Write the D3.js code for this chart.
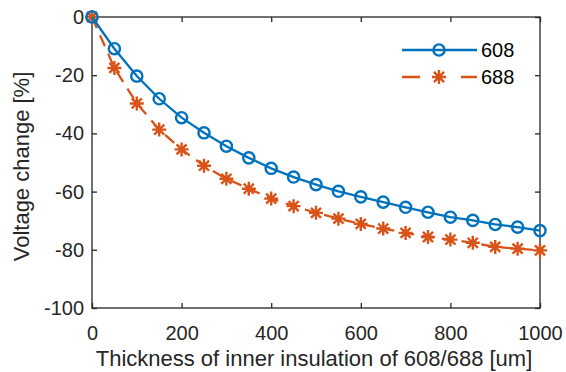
<!DOCTYPE html>
<html>
<head>
<meta charset="utf-8">
<script src="https://cdn.jsdelivr.net/npm/d3@7"></script>
<style>
  body { margin: 0; background: #fff; }
  svg { display: block; font-family: "Liberation Sans", Arial, sans-serif; }
</style>
</head>
<body>
<svg id="chart" width="566" height="372"></svg>
<script>
// thickness in um
const thickness = [0, 50, 100, 150, 200, 250, 300, 350, 400, 450, 500,
  550, 600, 650, 700, 750, 800, 850, 900, 950, 1000];
// voltage change [%]
const v608 = [0, -10.9, -20.3, -28.1, -34.6, -39.8, -44.4, -48.4, -52.0, -55.0, -57.6,
  -59.9, -61.8, -63.6, -65.4, -67.1, -68.8, -69.9, -71.3, -72.2, -73.4];
const v688 = [0, -17.5, -29.7, -38.7, -45.5, -51.1, -55.6, -59.0, -62.4, -65.0, -67.3,
  -69.3, -71.1, -72.7, -74.2, -75.6, -76.5, -77.6, -79.0, -79.6, -80.2];
const xTicks = [0, 200, 400, 600, 800, 1000];
const yTicks = [0, -20, -40, -60, -80, -100];
const seriesNames = ["608", "688"];

const blue = "#0072BD", orange = "#D95319";
const m = { left: 92, right: 26, top: 17, bottom: 64 };
const W = 566, H = 372;

const svg = d3.select("#chart");
const x = d3.scaleLinear().domain([0, 1000]).range([m.left, W - m.right]);
const y = d3.scaleLinear().domain([-100, 0]).range([H - m.bottom, m.top]);

const axisCol = "#262626";
const tickLen = 5;
const fmt = d => String(d); // plain hyphen minus, no thousands sep

function styleAxis(g) {
  g.select(".domain").remove();
  g.selectAll("line").attr("stroke", axisCol).attr("stroke-width", 1.3);
  g.selectAll("text").attr("fill", axisCol).attr("font-size", 20).attr("font-family", null);
}

// ticks point inward, box on all four sides
svg.append("g")
  .attr("transform", `translate(0,${y(-100)})`)
  .call(d3.axisBottom(x).tickValues(xTicks).tickSize(-tickLen).tickPadding(18).tickFormat(fmt))
  .call(styleAxis);
svg.append("g")
  .attr("transform", `translate(0,${y(0)})`)
  .call(d3.axisTop(x).tickValues(xTicks).tickSize(-tickLen).tickFormat(""))
  .call(styleAxis);
svg.append("g")
  .attr("transform", `translate(${x(0)},0)`)
  .call(d3.axisLeft(y).tickValues(yTicks).tickSize(-tickLen).tickPadding(8).tickFormat(fmt))
  .call(styleAxis);
svg.append("g")
  .attr("transform", `translate(${x(1000)},0)`)
  .call(d3.axisRight(y).tickValues(yTicks).tickSize(-tickLen).tickFormat(""))
  .call(styleAxis);

svg.append("rect")
  .attr("x", x(0)).attr("y", y(0))
  .attr("width", x(1000) - x(0)).attr("height", y(-100) - y(0))
  .attr("fill", "none").attr("stroke", axisCol).attr("stroke-width", 1.3);

const line = d3.line().x(d => x(d[0])).y(d => y(d[1]));
const d608 = thickness.map((t, i) => [t, v608[i]]);
const d688 = thickness.map((t, i) => [t, v688[i]]);

// 688: dashed line with asterisk markers
svg.append("path").datum(d688).attr("d", line)
  .attr("fill", "none").attr("stroke", orange).attr("stroke-width", 2.3)
  .attr("stroke-dasharray", "12 8");

function star(g, cx, cy, col) {
  const r = 7, d = r * 0.72;
  const p = `M${cx - r},${cy}H${cx + r}M${cx},${cy - r}V${cy + r}` +
    `M${cx - d},${cy - d}L${cx + d},${cy + d}M${cx - d},${cy + d}L${cx + d},${cy - d}`;
  g.append("path").attr("d", p).attr("stroke", col).attr("stroke-width", 2.4).attr("fill", "none");
}
const g688 = svg.append("g");
d688.forEach(d => star(g688, x(d[0]), y(d[1]), orange));

// 608: solid line with open circles
svg.append("path").datum(d608).attr("d", line)
  .attr("fill", "none").attr("stroke", blue).attr("stroke-width", 2.3);
svg.append("g").selectAll("circle").data(d608).join("circle")
  .attr("cx", d => x(d[0])).attr("cy", d => y(d[1])).attr("r", 5.6)
  .attr("fill", "none").attr("stroke", blue).attr("stroke-width", 2.4);

// legend (no box)
const lg = svg.append("g");
const lx0 = 402, lx1 = 477, lmid = 439;
lg.append("line").attr("x1", lx0).attr("x2", lx1).attr("y1", 50).attr("y2", 50)
  .attr("stroke", blue).attr("stroke-width", 2.3);
lg.append("circle").attr("cx", lmid).attr("cy", 50).attr("r", 5.6)
  .attr("fill", "none").attr("stroke", blue).attr("stroke-width", 2.4);
lg.append("line").attr("x1", lx0).attr("x2", lx1).attr("y1", 77).attr("y2", 77)
  .attr("stroke", orange).attr("stroke-width", 2.3).attr("stroke-dasharray", "18 41");
star(lg, lmid, 77, orange);
lg.selectAll("text").data(seriesNames).join("text")
  .attr("x", 481).attr("y", (d, i) => 50 + i * 27).attr("dy", "0.35em")
  .attr("font-size", 20).attr("fill", "#000").text(d => d);

// axis titles
svg.append("text")
  .attr("x", (x(0) + x(1000)) / 2 - 2).attr("y", 366)
  .attr("text-anchor", "middle").attr("font-size", 22).attr("fill", axisCol)
  .text("Thickness of inner insulation of 608/688 [um]");
svg.append("text")
  .attr("transform", `translate(29,${(y(0) + y(-100)) / 2 + 4}) rotate(-90)`)
  .attr("text-anchor", "middle").attr("font-size", 22).attr("fill", axisCol)
  .text("Voltage change [%]");
</script>
</body>
</html>
